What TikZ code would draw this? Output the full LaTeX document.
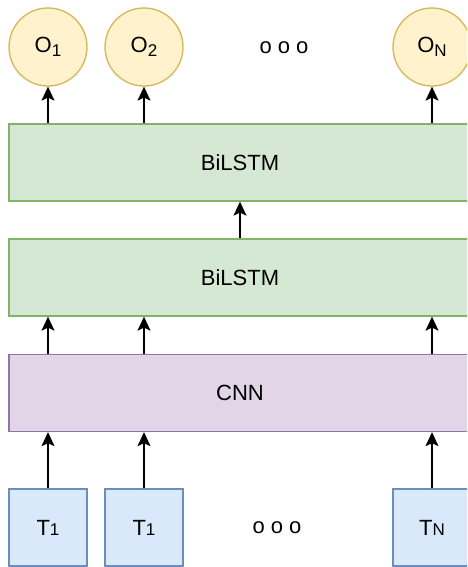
\documentclass[tikz,border=0pt]{standalone}
\usepackage{fontspec}
\setmainfont{Liberation Sans}
\usetikzlibrary{arrows.meta}
\definecolor{outfill}{HTML}{FFF2CC}
\definecolor{outdraw}{HTML}{D6B656}
\definecolor{lstmfill}{HTML}{D5E8D4}
\definecolor{lstmdraw}{HTML}{82B366}
\definecolor{cnnfill}{HTML}{E1D5E7}
\definecolor{cnndraw}{HTML}{9673A6}
\definecolor{tokfill}{HTML}{DAE8FC}
\definecolor{tokdraw}{HTML}{6C8EBF}
% lowered index for outputs, small index for tokens
\newcommand{\lowidx}[1]{\raisebox{-4.5pt}{\fontsize{17}{17}\selectfont #1}}
\newcommand{\tokidx}[1]{{\fontsize{17}{17}\selectfont #1}}

\begin{document}
\begin{tikzpicture}[x=1pt,y=-1pt,font=\fontsize{22}{26}\selectfont,
  outnode/.style={circle,minimum size=78pt,inner sep=0pt,fill=outfill,draw=outdraw,line width=1.3pt},
  layer/.style={minimum width=462pt,minimum height=77pt,inner sep=0pt,line width=1.3pt},
  tokbox/.style={minimum width=78pt,minimum height=77pt,inner sep=0pt,fill=tokfill,draw=tokdraw,line width=1.3pt},
  flow/.style={-{Stealth[length=14pt,width=13pt,inset=3pt]},line width=1.5pt}]
\clip (0,0) rectangle (467,567);
% stacked layers
\node[layer,fill=lstmfill,draw=lstmdraw] (bil2) at (240,162.5) {BiLSTM};
\node[layer,fill=lstmfill,draw=lstmdraw] (bil1) at (240,277.5) {BiLSTM};
\node[layer,fill=cnnfill,draw=cnndraw] (cnn) at (240,393) {CNN};
\draw[flow] (bil1) -- (bil2);
% one column per token
\foreach \nm/\x/\o/\t in {a/48/O\lowidx{1}/T\tokidx{1},b/144/O\lowidx{2}/T\tokidx{1},n/432/O\lowidx{N}/T\tokidx{N}}{
  \node[outnode] (o\nm) at (\x,47) {\o};
  \node[tokbox] (t\nm) at (\x,527.5) {\t};
  \draw[flow] (t\nm) -- (t\nm |- cnn.south);
  \draw[flow] (t\nm |- cnn.north) -- (t\nm |- bil1.south);
  \draw[flow] (o\nm |- bil2.north) -- (o\nm);}
\node (dotsout) at (284,47.5) {o o o};
\node (dotstok) at (277,528) {o o o};
\end{tikzpicture}
\end{document}
